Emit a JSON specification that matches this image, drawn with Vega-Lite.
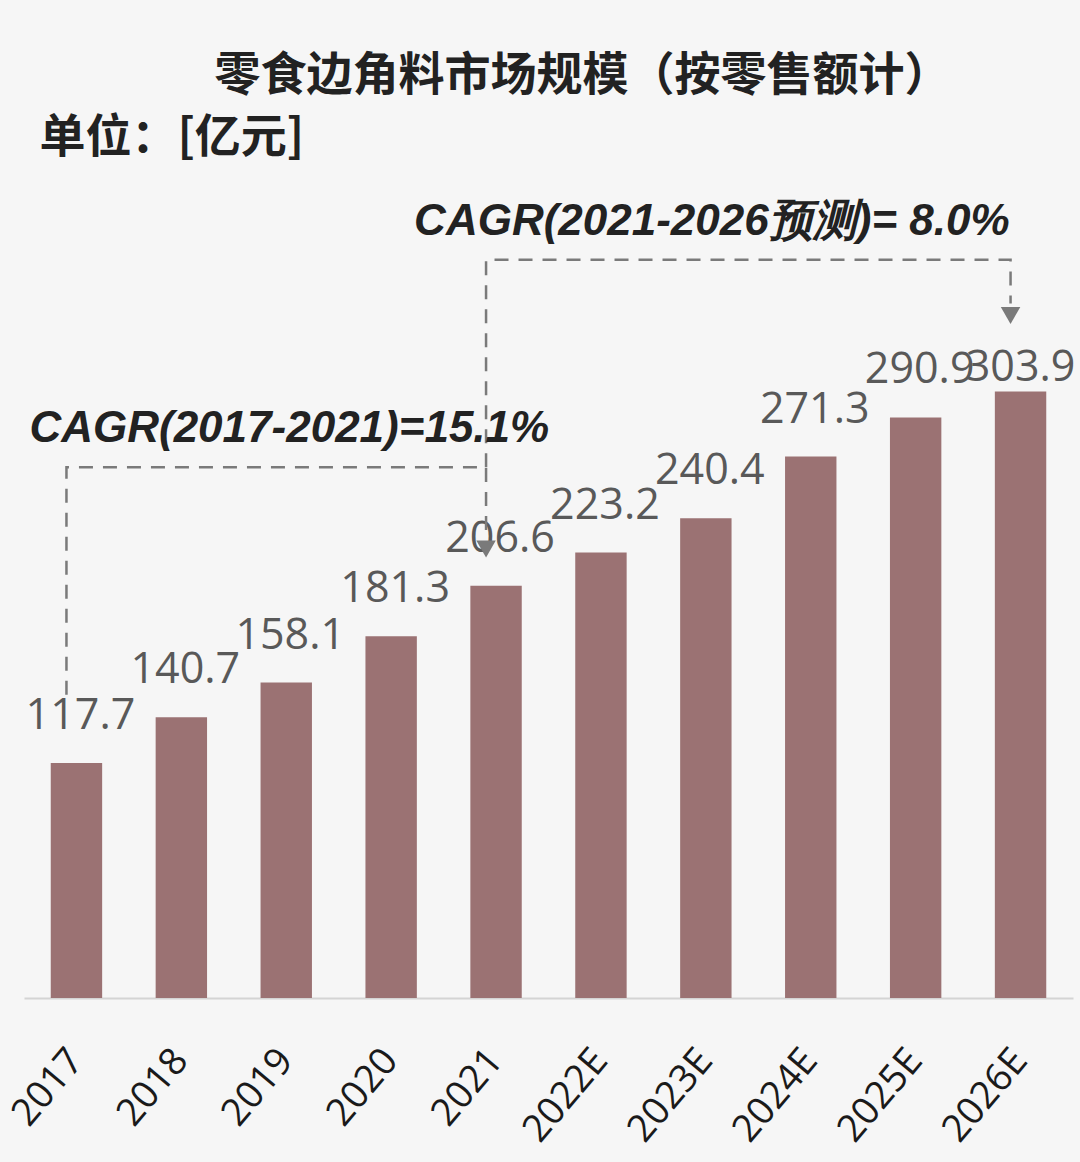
{
  "$schema": "https://vega.github.io/schema/vega-lite/v6.json",
  "autosize": {"type": "none"},
  "width": 1049,
  "height": 898,
  "padding": {"left": 24, "top": 100, "right": 7, "bottom": 164},
  "background": "#f6f6f6",
  "config": {"view": {"stroke": null}},
  "title": {
    "text": "零食边角料市场规模（按零售额计）",
    "font": "Noto Sans CJK SC",
    "fontSize": 46,
    "fontWeight": "bold",
    "color": "#222222",
    "anchor": "middle",
    "baseline": "bottom",
    "offset": 6,
    "dx": 34,
    "dy": 52
  },
  "datasets": {
    "bars": [
      {"year": "2017", "value": 117.7},
      {"year": "2018", "value": 140.7},
      {"year": "2019", "value": 158.1},
      {"year": "2020", "value": 181.3},
      {"year": "2021", "value": 206.6},
      {"year": "2022E", "value": 223.2},
      {"year": "2023E", "value": 240.4},
      {"year": "2024E", "value": 271.3},
      {"year": "2025E", "value": 290.9},
      {"year": "2026E", "value": 303.9}
    ],
    "lines": [
      {"seg": "A", "ord": 0, "year": "2017", "v": 152},
      {"seg": "A", "ord": 1, "year": "2017", "v": 266},
      {"seg": "A", "ord": 2, "year": "2021", "v": 266},
      {"seg": "A", "ord": 3, "year": "2021", "v": 231},
      {"seg": "B", "ord": 0, "year": "2021", "v": 266},
      {"seg": "B", "ord": 1, "year": "2021", "v": 370},
      {"seg": "B", "ord": 2, "year": "2026E", "v": 370},
      {"seg": "B", "ord": 3, "year": "2026E", "v": 348}
    ],
    "arrows": [
      {"year": "2021", "v": 225},
      {"year": "2026E", "v": 342}
    ],
    "notes": [
      {"year": "2017", "v": 285, "label": "CAGR(2017-2021)=15.1%"},
      {"year": "2023E", "v": 389, "label": "CAGR(2021-2026预测)= 8.0%"}
    ],
    "unit": [
      {"year": "2017", "v": 431, "label": "单位：[亿元]"}
    ]
  },
  "encoding": {
    "x": {
      "field": "year",
      "type": "nominal",
      "sort": null,
      "scale": {"paddingInner": 0.51, "paddingOuter": 0.255},
      "axis": {
        "title": null,
        "ticks": false,
        "domainColor": "#d4d4d4",
        "domainWidth": 2,
        "labelAngle": -50,
        "labelAlign": "right",
        "labelBaseline": "middle",
        "labelFont": "Open Sans",
        "labelFontSize": 38,
        "labelColor": "#1a1a1a",
        "labelPadding": 56
      }
    }
  },
  "layer": [
    {
      "data": {"name": "bars"},
      "mark": {"type": "bar", "color": "#9b7273"},
      "encoding": {
        "y": {"field": "value", "type": "quantitative", "scale": {"domain": [0, 443]}, "axis": null}
      }
    },
    {
      "data": {"name": "bars"},
      "transform": [{"filter": "datum.year != '2026E'"}],
      "mark": {"type": "text", "font": "Open Sans", "fontSize": 43, "color": "#595959", "baseline": "alphabetic", "dy": -34, "dx": 4},
      "encoding": {
        "y": {"field": "value", "type": "quantitative"},
        "text": {"field": "value", "type": "quantitative", "format": ".1f"}
      }
    },
    {
      "data": {"name": "bars"},
      "transform": [{"filter": "datum.year == '2026E'"}],
      "mark": {"type": "text", "font": "Open Sans", "fontSize": 43, "color": "#595959", "baseline": "alphabetic", "dy": -11},
      "encoding": {
        "y": {"field": "value", "type": "quantitative"},
        "text": {"field": "value", "type": "quantitative", "format": ".1f"}
      }
    },
    {
      "data": {"name": "lines"},
      "mark": {"type": "line", "stroke": "#7a7a7a", "strokeWidth": 2.5, "strokeDash": [14, 10], "xOffset": -10},
      "encoding": {
        "y": {"field": "v", "type": "quantitative"},
        "detail": {"field": "seg"},
        "order": {"field": "ord"}
      }
    },
    {
      "data": {"name": "arrows"},
      "mark": {"type": "point", "shape": "triangle-down", "filled": true, "color": "#7a7a7a", "opacity": 1, "size": 380, "xOffset": -10},
      "encoding": {
        "y": {"field": "v", "type": "quantitative"}
      }
    },
    {
      "data": {"name": "notes"},
      "transform": [{"filter": "datum.year == '2017'"}],
      "mark": {"type": "text", "font": "Liberation Sans", "fontStyle": "italic", "fontWeight": "bold", "fontSize": 44, "color": "#222222", "baseline": "middle", "align": "left", "dx": -47},
      "encoding": {
        "y": {"field": "v", "type": "quantitative"},
        "text": {"field": "label"}
      }
    },
    {
      "data": {"name": "notes"},
      "transform": [{"filter": "datum.year != '2017'"}],
      "mark": {"type": "text", "font": "Liberation Sans", "fontStyle": "italic", "fontWeight": "bold", "fontSize": 44, "color": "#222222", "baseline": "middle", "align": "center", "dx": 6},
      "encoding": {
        "y": {"field": "v", "type": "quantitative"},
        "text": {"field": "label"}
      }
    },
    {
      "data": {"name": "unit"},
      "mark": {"type": "text", "font": "Noto Sans CJK SC", "fontWeight": "bold", "fontSize": 46, "color": "#222222", "baseline": "middle", "align": "left", "dx": -37},
      "encoding": {
        "y": {"field": "v", "type": "quantitative"},
        "text": {"field": "label"}
      }
    }
  ]
}
